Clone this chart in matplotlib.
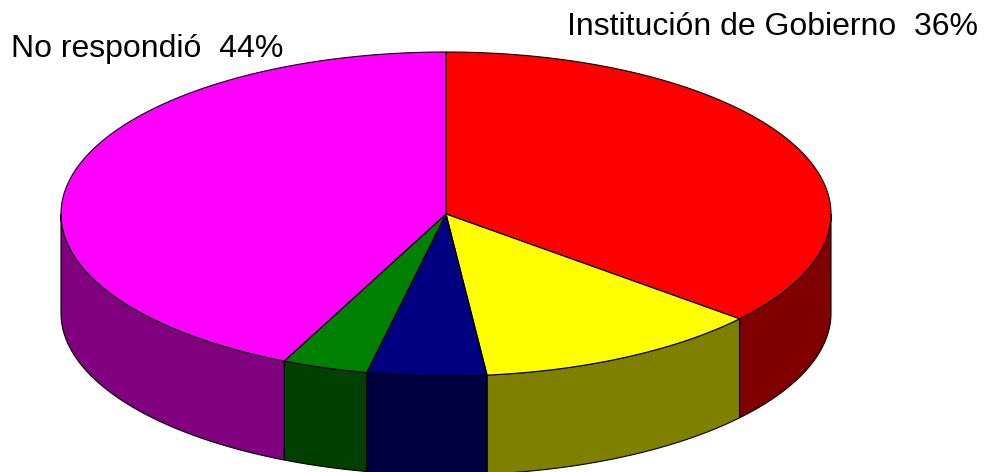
import numpy as np
from matplotlib import pyplot as plt

labels = ["Institución de Gobierno  36%", "", "", "", "No respondió  44%"]
values = [36.2, 12.1, 5.0, 3.6, 43.1]
top_colors = ["#ff0000", "#ffff00", "#000080", "#008000", "#ff00ff"]
side_colors = ["#800000", "#808000", "#000040", "#004000", "#800080"]

cx, cy = 446, 214
rx, ry = 385, 162
depth = 99


def rim(a):
    # a in degrees clockwise from the top
    t = np.radians(a)
    return cx + rx * np.sin(t), cy - ry * np.cos(t)


fig = plt.figure(figsize=(9.9, 4.72), dpi=100)
ax = fig.add_axes([0, 0, 1, 1])
ax.set_xlim(0, 990)
ax.set_ylim(472, 0)
ax.axis("off")

edges = np.concatenate([[0], np.cumsum(values)]) / sum(values) * 360

# side wall, only the front half of the rim shows
for i in range(len(values)):
    a0, a1 = max(edges[i], 90), min(edges[i + 1], 270)
    if a1 <= a0:
        continue
    x, y = rim(np.linspace(a0, a1, 200))
    ax.fill(np.r_[x, x[::-1]], np.r_[y, y[::-1] + depth],
            facecolor=side_colors[i], edgecolor="black", lw=0.8, clip_on=False)

# top face
for i in range(len(values)):
    x, y = rim(np.linspace(edges[i], edges[i + 1], 300))
    ax.fill(np.r_[cx, x], np.r_[cy, y],
            facecolor=top_colors[i], edgecolor="black", lw=0.8, joinstyle="round")

ax.text(567, 27, labels[0], fontsize=23, family="Liberation Sans", va="center", ha="left")
ax.text(11, 49, labels[4], fontsize=23, family="Liberation Sans", va="center", ha="left")

plt.savefig("out.png", dpi=100)
